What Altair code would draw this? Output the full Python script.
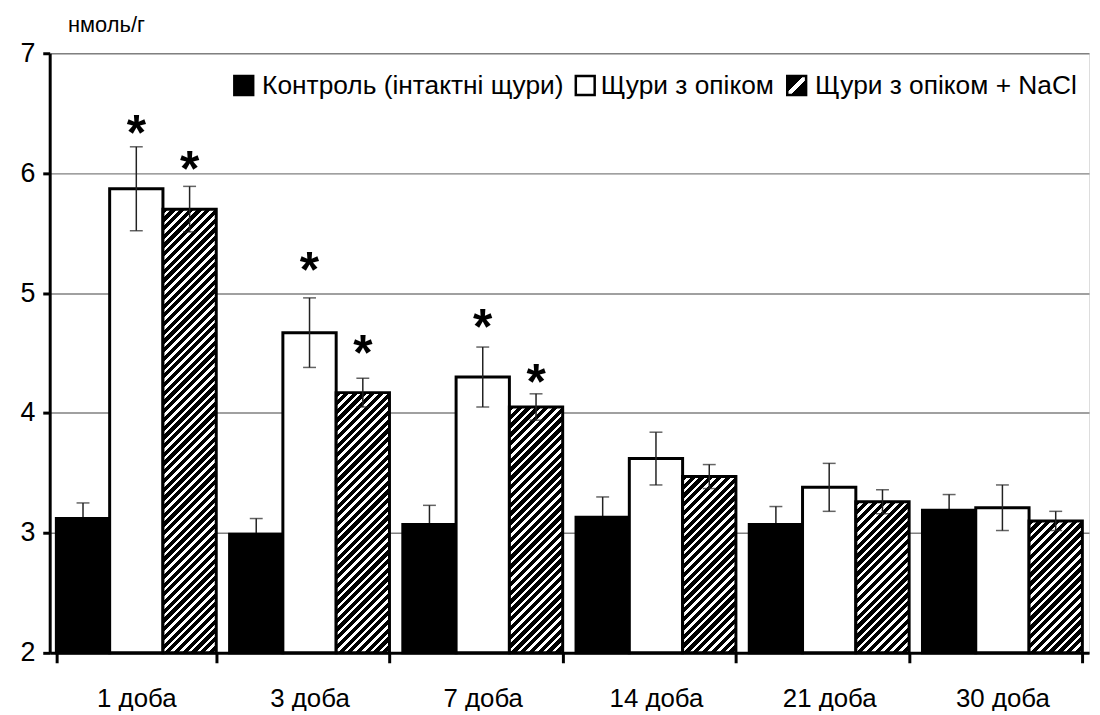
import altair as alt
import pandas as pd

# ---------------- data ----------------
days = ["1 доба", "3 доба", "7 доба", "14 доба", "21 доба", "30 доба"]
groups = ["Контроль (інтактні щури)", "Щури з опіком", "Щури з опіком + NaCl"]

control = [3.12, 2.99, 3.07, 3.13, 3.07, 3.19]
control_err = [0.13, 0.13, 0.16, 0.17, 0.15, 0.13]
burn = [5.87, 4.67, 4.30, 3.62, 3.38, 3.21]
burn_err = [0.35, 0.29, 0.25, 0.22, 0.20, 0.19]
nacl = [5.70, 4.17, 4.05, 3.47, 3.26, 3.10]
nacl_err = [0.19, 0.12, 0.11, 0.10, 0.10, 0.08]

star_day = ["1 доба", "1 доба", "3 доба", "3 доба", "7 доба", "7 доба"]
star_group = [groups[1], groups[2]] * 3
star_y = [6.38, 6.08, 5.245, 4.55, 4.77, 4.31]

y_ticks = [2, 3, 4, 5, 6, 7]
y_unit = "нмоль/г"

# ---------------- tables ----------------
rows = []
for g, vals, errs in zip(groups, [control, burn, nacl], [control_err, burn_err, nacl_err]):
    for d, v, e in zip(days, vals, errs):
        rows.append({"day": d, "group": g, "value": v, "lo": v - e, "hi": v + e})
df = pd.DataFrame(rows)
stars = pd.DataFrame({"day": star_day, "group": star_group, "sy": star_y})

# ---------------- layout ----------------
W, H = 1047, 604
Y0, Y1 = y_ticks[0], y_ticks[-1]
PAD_IN = 0.077
FONT = "Liberation Sans"
step = W / (len(days) - PAD_IN + 2 * (PAD_IN / 2))
sub_w = step * (1 - PAD_IN) / len(groups)


def hatch(w, h, period=8.8, white=0.4):
    n = max(1, round((w + h) / period))
    c = (w + h) / (w * w + h * h)
    stops = []
    for k in range(n):
        a = k / n
        b = (k + 1 - white) / n
        e = (k + 1) / n
        stops += [
            {"offset": a, "color": "black"},
            {"offset": b, "color": "black"},
            {"offset": b, "color": "white"},
            {"offset": e, "color": "white"},
        ]
    return {"gradient": "linear", "x1": 0, "y1": 0, "x2": c * w, "y2": c * h, "stops": stops}


x_axis = alt.Axis(title=None, labelFont=FONT, labelFontSize=26, labelColor="black",
                  labelPadding=23, labelAngle=0, tickBand="extent", tickSize=10,
                  tickWidth=3, tickColor="black", domainColor="black", domainWidth=3,
                  grid=False)
y_axis = alt.Axis(values=y_ticks, grid=True, gridColor="#808080", gridWidth=1.5,
                  tickSize=7, tickWidth=3, tickColor="black", domainColor="black",
                  domainWidth=3, labelFont=FONT, labelFontSize=27, labelColor="black",
                  labelPadding=8, title=y_unit, titleAngle=0, titleX=18, titleY=-29,
                  titleAlign="left", titleBaseline="middle", titleFont=FONT,
                  titleFontSize=22, titleFontWeight="normal", titleColor="black")

x_scale = alt.Scale(domain=days, paddingInner=PAD_IN, paddingOuter=PAD_IN / 2)
y_scale = alt.Scale(domain=[Y0, Y1], zero=False, nice=False)
X = alt.X("day:N", sort=days, scale=x_scale, axis=x_axis)
XO = alt.XOffset("group:N", sort=groups, scale=alt.Scale(domain=groups, paddingInner=0, paddingOuter=0))


def Yf(field):
    return alt.Y(field, scale=y_scale, axis=y_axis)


base = alt.Chart(df)


def error_layers(src):
    err = src.mark_rule(color="#222222", strokeWidth=1.5).encode(
        x=X, xOffset=XO, y=Yf("lo:Q"), y2="hi:Q")
    cap_hi = src.mark_tick(color="#222222", thickness=1.5, size=13, orient="horizontal").encode(
        x=X, xOffset=XO, y=Yf("hi:Q"))
    cap_lo = src.mark_tick(color="#222222", thickness=1.5, size=13, orient="horizontal").encode(
        x=X, xOffset=XO, y=Yf("lo:Q"))
    return [err, cap_hi, cap_lo]


ctrl_src = base.transform_filter(alt.datum.group == groups[0])
other_src = base.transform_filter(alt.datum.group != groups[0])

layers = error_layers(ctrl_src)  # drawn beneath the black bars

bars = base.transform_filter(
    alt.FieldOneOfPredicate(field="group", oneOf=groups[:2])
).mark_bar(stroke="black", strokeWidth=3).encode(
    x=X, xOffset=XO, y=Yf("value:Q"), y2=alt.datum(Y0),
    fill=alt.Fill("group:N", scale=alt.Scale(domain=groups[:2], range=["black", "white"]), legend=None),
)
layers.append(bars)

for d, v in zip(days, nacl):
    h = (v - Y0) / (Y1 - Y0) * H
    layers.append(
        base.transform_filter((alt.datum.day == d) & (alt.datum.group == groups[2]))
        .mark_bar(fill=hatch(sub_w, h), stroke="black", strokeWidth=3)
        .encode(x=X, xOffset=XO, y=Yf("value:Q"), y2=alt.datum(Y0))
    )

layers += error_layers(other_src)

star = alt.Chart(stars).mark_text(text="*", font=FONT, fontSize=50, fontWeight="bold",
                                  baseline="alphabetic", dy=23, color="black").encode(
    x=X, xOffset=XO, y=Yf("sy:Q"))
layers.append(star)

# ---------------- legend (manual) ----------------
leg_df = pd.DataFrame({"label": groups})
leg_sq = [(186, 205), (530, 549), (743, 762)]
leg_tx = [214, 555, 771]
leg_fill = ["black", "white", {"gradient": "linear", "x1": 0, "y1": 0, "x2": 1, "y2": 1,
                               "stops": [{"offset": 0, "color": "black"}, {"offset": 0.42, "color": "black"},
                                         {"offset": 0.42, "color": "white"}, {"offset": 0.58, "color": "white"},
                                         {"offset": 0.58, "color": "black"}, {"offset": 1, "color": "black"}]}]
for i in range(3):
    sub = alt.Chart(leg_df).transform_filter(alt.datum.label == groups[i])
    layers.append(sub.mark_rect(fill=leg_fill[i], stroke="black", strokeWidth=2.5).encode(
        x=alt.value(leg_sq[i][0]), x2=alt.value(leg_sq[i][1]), y=alt.value(23), y2=alt.value(42)))
    layers.append(sub.mark_text(align="left", baseline="middle", font=FONT, fontSize=26.5,
                                color="black").encode(
        x=alt.value(leg_tx[i]), y=alt.value(33), text="label:N"))

chart = alt.layer(*layers).properties(
    width=W, height=H,
    autosize=alt.AutoSizeParams(type="none"),
    padding={"left": 42, "top": 43, "right": 3, "bottom": 56},
).configure_view(stroke=None).configure(font=FONT)

chart.save("out.html", embed_options={"renderer": "svg", "actions": False})
